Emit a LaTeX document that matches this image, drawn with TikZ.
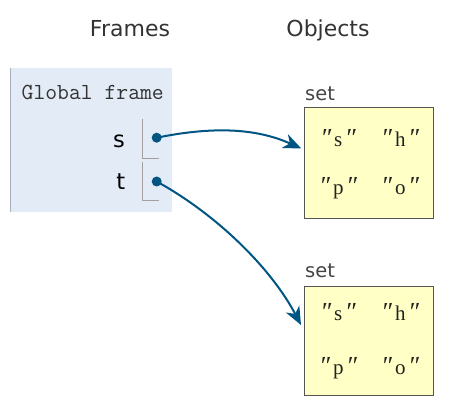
\documentclass[tikz,border=0pt]{standalone}
\usepackage{fontspec}
\setmainfont{Liberation Serif}
\newfontfamily\uisans{DejaVu Sans}
\usetikzlibrary{arrows.meta,calc}
\definecolor{ptblue}{HTML}{005583}
\definecolor{framebg}{HTML}{E2EBF6}
\definecolor{framebd}{HTML}{A6B0B8}
\definecolor{vline}{HTML}{A0A0A0}
\definecolor{heapbg}{HTML}{FFFFC6}
\definecolor{heapbd}{HTML}{555555}
\definecolor{headtxt}{HTML}{333333}
\definecolor{labtxt}{HTML}{444444}
\definecolor{eltxt}{HTML}{222222}
\newcommand\qmk{{\fontsize{26}{26}\selectfont\itshape ″}}
\newcommand\strel[1]{\qmk\kern3pt#1\kern2.5pt\qmk}
\begin{document}
\begin{tikzpicture}[x=1pt,y=-1pt,
  head/.style={inner sep=0pt,anchor=base,text=headtxt,font=\uisans\fontsize{22}{24}\selectfont},
  gframe/.style={inner sep=0pt,anchor=base west,text=headtxt,font=\ttfamily\fontsize{23}{26}\selectfont},
  varname/.style={inner sep=0pt,anchor=base east,text=black,font=\uisans\fontsize{22.5}{26}\selectfont},
  vbox/.style={draw=vline,line width=1pt},
  ptr/.style={circle,fill=ptblue,inner sep=0pt,minimum size=10pt},
  setbox/.style={draw=heapbd,fill=heapbg,line width=1pt,minimum width=129pt,inner sep=0pt},
  setlab/.style={inner sep=0pt,anchor=base west,text=labtxt,font=\uisans\fontsize{19.5}{22}\selectfont},
  elem/.style={inner sep=0pt,anchor=base,text=eltxt,font=\fontsize{21}{24}\selectfont},
  arr/.style={draw=ptblue,line width=2pt,-{Stealth[length=18pt,width=15pt,inset=5.5pt]}}
]
\useasboundingbox (0,0) rectangle (458,411);
% headings
\node[head] (frames) at (130,37) {Frames};
\node[head] (objects) at (328,37) {Objects};
% frame
\fill[framebg] (10,68) rectangle (172,212);
\draw[framebd,line width=1pt] (10.5,68) -- (10.5,212);
\node[gframe] (gf) at (21.5,99.3) {Global frame};
\node[varname] (vs) at (125,148) {s};
\node[varname] (vt) at (125.5,190) {t};
\draw[vbox] (142.5,119) -- (142.5,158.5) -- (159,158.5);
\draw[vbox] (142.5,162.5) -- (142.5,201) -- (159,201);
% heap objects
\node[setlab] (lab1) at (305,100.7) {set};
\node[setbox,minimum height=111pt] (set1) at (368.8,162.8) {};
\node[elem] (e1s) at (338,146.5) {\strel{s}};
\node[elem] (e1h) at (400,146.5) {\strel{h}};
\node[elem] (e1p) at (338,194.5) {\strel{p}};
\node[elem] (e1o) at (400,194.5) {\strel{o}};
\node[setlab] (lab2) at (305,277.7) {set};
\node[setbox,minimum height=108.5pt] (set2) at (368.8,340.8) {};
\node[elem] (e2s) at (338,321) {\strel{s}};
\node[elem] (e2h) at (400,321) {\strel{h}};
\node[elem] (e2p) at (338,375) {\strel{p}};
\node[elem] (e2o) at (400,375) {\strel{o}};
% pointers
\node[ptr] (ds) at (156.7,137.7) {};
\node[ptr] (dt) at (156.7,181.5) {};
\draw[arr] (ds.center) .. controls +(48,-9.7) and +(-50,-22.5) .. ($(set1.west)+(-2.5,-14.3)$);
\draw[arr] (dt.center) .. controls +(60,33) and +(-30,-57) .. ($(set2.west)+(-2.8,-15.8)$);
\end{tikzpicture}
\end{document}
